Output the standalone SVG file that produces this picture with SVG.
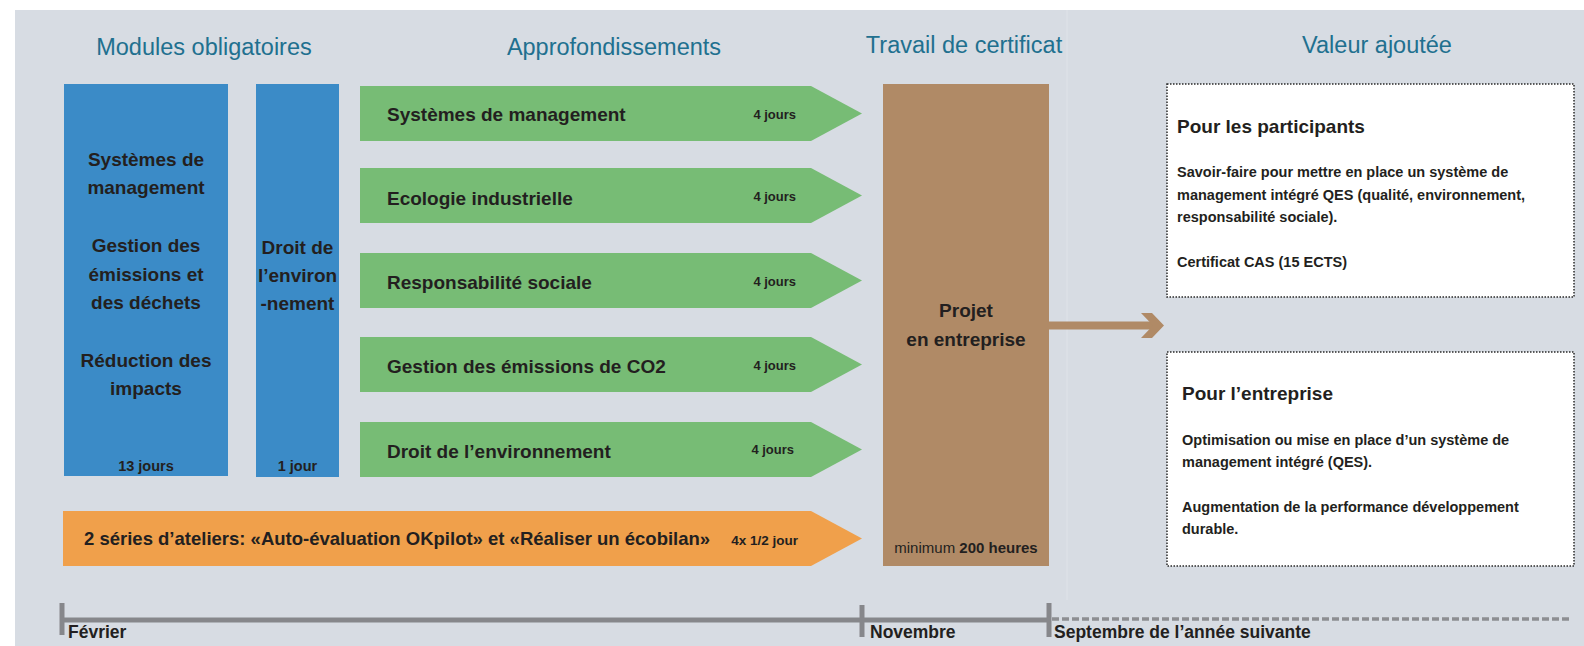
<svg xmlns="http://www.w3.org/2000/svg" width="1584" height="646" viewBox="0 0 1584 646">
<style>
text{font-family:"Liberation Sans",Arial,sans-serif;fill:#231f20;font-weight:bold}
.hd{font-weight:normal;fill:#21708f;font-size:23.5px;text-anchor:middle}
.bl{font-size:19px;text-anchor:middle}
.lab{font-size:19px}
.days{font-size:13px;text-anchor:end}
.h2{font-size:19px}
.body{font-size:14.5px}
.tl{font-size:17.5px}
.green{fill:#77bc75}
.box{fill:#fff;stroke:#2a2a2a;stroke-width:1.5;stroke-dasharray:1.5 1.5}
</style>
<rect x="0" y="0" width="1584" height="646" fill="#fff"/>
<rect x="15" y="10" width="1569" height="636" fill="#d7dce3"/>
<line x1="1067" y1="10" x2="1067" y2="600" stroke="#dfe3e9" stroke-width="1"/>

<g id="headers">
<text class="hd" x="204" y="55">Modules obligatoires</text>
<text class="hd" x="614" y="55">Approfondissements</text>
<text class="hd" x="964" y="53">Travail de certificat</text>
<text class="hd" x="1377" y="53">Valeur ajoutée</text>
</g>

<g id="mod1">
<rect x="64" y="84" width="164" height="392" fill="#3b8bc7"/>
<text class="bl" x="146" y="166">Systèmes de</text>
<text class="bl" x="146" y="194">management</text>
<text class="bl" x="146" y="252">Gestion des</text>
<text class="bl" x="146" y="281">émissions et</text>
<text class="bl" x="146" y="309">des déchets</text>
<text class="bl" x="146" y="367">Réduction des</text>
<text class="bl" x="146" y="395">impacts</text>
<text x="146" y="471" font-size="14.5" text-anchor="middle">13 jours</text>
</g>

<g id="mod2">
<rect x="256" y="84" width="83" height="393" fill="#3b8bc7"/>
<text class="bl" x="297.5" y="254">Droit de</text>
<text class="bl" x="297.5" y="282">l’environ</text>
<text class="bl" x="297.5" y="310">-nement</text>
<text x="297.5" y="471" font-size="14.5" text-anchor="middle">1 jour</text>
</g>

<g id="a1">
<polygon class="green" points="360,86 811,86 862,113.5 811,141 360,141"/>
<text class="lab" x="387" y="121">Systèmes de management</text>
<text class="days" x="796" y="119">4 jours</text>
</g>
<g id="a2">
<polygon class="green" points="360,168 811,168 862,195.5 811,223 360,223"/>
<text class="lab" x="387" y="205">Ecologie industrielle</text>
<text class="days" x="796" y="201">4 jours</text>
</g>
<g id="a3">
<polygon class="green" points="360,253 811,253 862,280.5 811,308 360,308"/>
<text class="lab" x="387" y="289">Responsabilité sociale</text>
<text class="days" x="796" y="286">4 jours</text>
</g>
<g id="a4">
<polygon class="green" points="360,337 811,337 862,364.5 811,392 360,392"/>
<text class="lab" x="387" y="373">Gestion des émissions de CO2</text>
<text class="days" x="796" y="370">4 jours</text>
</g>
<g id="a5">
<polygon class="green" points="360,422 811,422 862,449.5 811,477 360,477"/>
<text class="lab" x="387" y="458">Droit de l’environnement</text>
<text class="days" x="794" y="454">4 jours</text>
</g>
<g id="ateliers">
<polygon fill="#f0a04b" points="63,511 811,511 862,538.5 811,566 63,566"/>
<text x="84" y="545" font-size="18.5">2 séries d’ateliers: «Auto-évaluation OKpilot» et «Réaliser un écobilan»</text>
<text x="798" y="545" font-size="13.5" text-anchor="end">4x 1/2 jour</text>
</g>

<g id="projet">
<rect x="883" y="84" width="166" height="482" fill="#b08a66"/>
<text x="966" y="317" font-size="19" text-anchor="middle">Projet</text>
<text x="966" y="346" font-size="19" text-anchor="middle">en entreprise</text>
<text x="966" y="553" font-size="15" text-anchor="middle"><tspan font-weight="normal">minimum </tspan>200 heures</text>
</g>

<g id="connectors">
<rect x="1049" y="321.5" width="110" height="8" fill="#b08a66"/>
<polygon fill="#b08a66" points="1141,313 1152,313 1164,325.5 1152,338 1141,338 1153,325.5"/>
</g>

<g id="participants">
<rect class="box" x="1167" y="84" width="407" height="213"/>
<text class="h2" x="1177" y="133">Pour les participants</text>
<text class="body" x="1177" y="177">Savoir-faire pour mettre en place un système de</text>
<text class="body" x="1177" y="199.5">management intégré QES (qualité, environnement,</text>
<text class="body" x="1177" y="222">responsabilité sociale).</text>
<text class="body" x="1177" y="267">Certificat CAS (15 ECTS)</text>
</g>

<g id="entreprise">
<rect class="box" x="1167" y="352" width="407" height="214"/>
<text class="h2" x="1182" y="400">Pour l’entreprise</text>
<text class="body" x="1182" y="445">Optimisation ou mise en place d’un système de</text>
<text class="body" x="1182" y="467">management intégré (QES).</text>
<text class="body" x="1182" y="512">Augmentation de la performance développement</text>
<text class="body" x="1182" y="534">durable.</text>
</g>

<g id="timeline">
<line x1="62" y1="620" x2="1049" y2="620" stroke="#86878b" stroke-width="5"/>
<line x1="1052" y1="619" x2="1572" y2="619" stroke="#8d8e92" stroke-width="3.5" stroke-dasharray="7 3"/>
<line x1="62" y1="603" x2="62" y2="635" stroke="#86878b" stroke-width="5"/>
<line x1="862" y1="605" x2="862" y2="637" stroke="#86878b" stroke-width="5"/>
<line x1="1049" y1="603" x2="1049" y2="637" stroke="#86878b" stroke-width="5"/>
<text class="tl" x="68" y="638">Février</text>
<text class="tl" x="870" y="638">Novembre</text>
<text class="tl" x="1054" y="638">Septembre de l’année suivante</text>
</g>
</svg>
